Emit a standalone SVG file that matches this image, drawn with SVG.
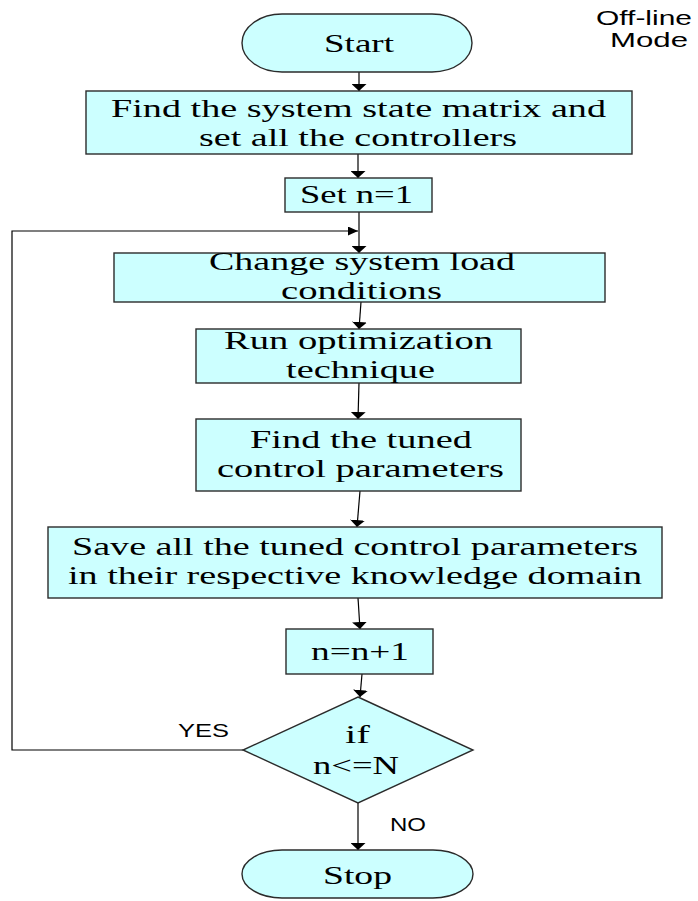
<svg xmlns="http://www.w3.org/2000/svg" width="698" height="901" viewBox="0 0 698 901">
<style>
.box{fill:#CCFFFF;stroke:#2b2b2b;stroke-width:1.4}
.t{font-family:"Liberation Serif","Times New Roman",serif;font-size:26px;fill:#000}
.s{font-family:"Liberation Sans",Arial,sans-serif;fill:#000}
.c{fill:none;stroke:#000;stroke-width:1.2}
</style>
<defs>
<marker id="av" markerUnits="userSpaceOnUse" markerWidth="8" markerHeight="15" refX="7" refY="7.5" orient="auto"><path d="M0,0 L7,7.5 L0,15 z" fill="#000"/></marker>
<marker id="ah" markerUnits="userSpaceOnUse" markerWidth="11" markerHeight="10" refX="10" refY="4.5" orient="auto"><path d="M0,0 L10,4.5 L0,9 z" fill="#000"/></marker>
</defs>
<g id="connectors">
<line class="c" x1="359" y1="72" x2="359" y2="91" marker-end="url(#av)"/>
<line class="c" x1="358" y1="154" x2="358" y2="178" marker-end="url(#av)"/>
<line class="c" x1="359" y1="212" x2="359" y2="253" marker-end="url(#av)"/>
<polyline class="c" points="243,750 12,750 12,231 358,231" marker-end="url(#ah)"/>
<line class="c" x1="361" y1="302" x2="359" y2="329" marker-end="url(#av)"/>
<line class="c" x1="359" y1="383" x2="358" y2="419" marker-end="url(#av)"/>
<line class="c" x1="360" y1="491" x2="357" y2="527" marker-end="url(#av)"/>
<line class="c" x1="358" y1="598" x2="360" y2="629" marker-end="url(#av)"/>
<line class="c" x1="362" y1="674" x2="360" y2="697" marker-end="url(#av)"/>
<line class="c" x1="358" y1="803" x2="358" y2="850" marker-end="url(#av)"/>
<text class="s" x="178" y="737" font-size="18" textLength="51" lengthAdjust="spacingAndGlyphs">YES</text>
<text class="s" x="390" y="831" font-size="18" textLength="36" lengthAdjust="spacingAndGlyphs">NO</text>
</g>
<g id="mode">
<text class="s" x="596" y="25" font-size="20" textLength="96" lengthAdjust="spacingAndGlyphs">Off-line</text>
<text class="s" x="610" y="47" font-size="20" textLength="78" lengthAdjust="spacingAndGlyphs">Mode</text>
</g>
<g id="start">
<rect class="box" x="242" y="14" width="230" height="58" rx="40" ry="29"/>
<text class="t" x="324" y="52" textLength="70" lengthAdjust="spacingAndGlyphs">Start</text>
</g>
<g id="find-matrix">
<rect class="box" x="86" y="91" width="546" height="63"/>
<text class="t" x="111" y="117" textLength="495" lengthAdjust="spacingAndGlyphs">Find the system state matrix and</text>
<text class="t" x="199" y="146" textLength="318" lengthAdjust="spacingAndGlyphs">set all the controllers</text>
</g>
<g id="set-n">
<rect class="box" x="285" y="178" width="147" height="34"/>
<text class="t" x="300" y="203" textLength="113" lengthAdjust="spacingAndGlyphs">Set n=1</text>
</g>
<g id="change-load">
<rect class="box" x="114" y="253" width="491" height="49"/>
<text class="t" x="209" y="270" textLength="306" lengthAdjust="spacingAndGlyphs">Change system load</text>
<text class="t" x="281" y="299" textLength="161" lengthAdjust="spacingAndGlyphs">conditions</text>
</g>
<g id="run-opt">
<rect class="box" x="196" y="329" width="325" height="54"/>
<text class="t" x="224" y="349" textLength="269" lengthAdjust="spacingAndGlyphs">Run optimization</text>
<text class="t" x="286" y="378" textLength="149" lengthAdjust="spacingAndGlyphs">technique</text>
</g>
<g id="find-tuned">
<rect class="box" x="196" y="419" width="325" height="72"/>
<text class="t" x="250" y="448" textLength="222" lengthAdjust="spacingAndGlyphs">Find the tuned</text>
<text class="t" x="217" y="477" textLength="287" lengthAdjust="spacingAndGlyphs">control parameters</text>
</g>
<g id="save">
<rect class="box" x="48" y="527" width="614" height="71"/>
<text class="t" x="72" y="555" textLength="566" lengthAdjust="spacingAndGlyphs">Save all the tuned control parameters</text>
<text class="t" x="68" y="584" textLength="574" lengthAdjust="spacingAndGlyphs">in their respective knowledge domain</text>
</g>
<g id="increment">
<rect class="box" x="286" y="629" width="147" height="45"/>
<text class="t" x="311" y="660" textLength="98" lengthAdjust="spacingAndGlyphs">n=n+1</text>
</g>
<g id="decision">
<polygon class="box" points="358,697 473,750 358,803 243,750"/>
<text class="t" x="345" y="743" textLength="25" lengthAdjust="spacingAndGlyphs">if</text>
<text class="t" x="313" y="774" textLength="86" lengthAdjust="spacingAndGlyphs">n&lt;=N</text>
</g>
<g id="stop">
<rect class="box" x="242" y="850" width="231" height="48" rx="40" ry="24"/>
<text class="t" x="323" y="884" textLength="69" lengthAdjust="spacingAndGlyphs">Stop</text>
</g>
</svg>
